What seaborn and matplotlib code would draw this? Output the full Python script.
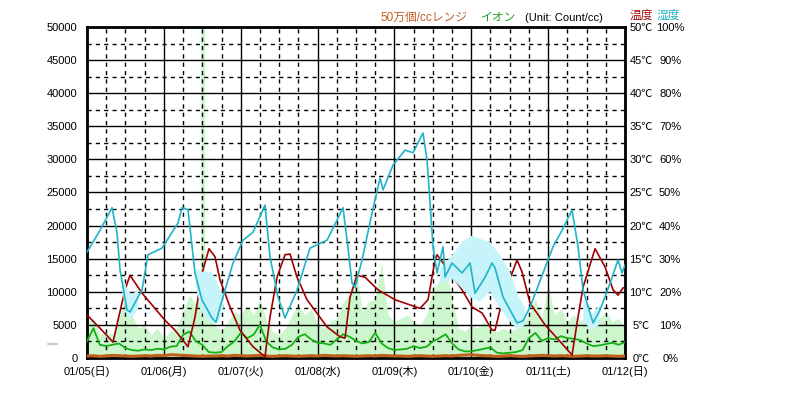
import numpy as np
import pandas as pd
import matplotlib
matplotlib.use("Agg")
import matplotlib.pyplot as plt
import seaborn as sns

# ---------------- data ----------------
day_labels = ["01/05(日)", "01/06(月)", "01/07(火)", "01/08(水)",
              "01/09(木)", "01/10(金)", "01/11(土)", "01/12(日)"]

# ion (count/cc), sampled every 2 hours from 01/05 00:00
ion_hours = list(range(0, 169, 2))
ion_line = [2500, 4500, 2000, 1800, 2000, 2200, 1500, 1200, 1100, 1300,
            1200, 1400, 1300, 1700, 1800, 3500, 4000, 2500, 2000, 900,
            800, 900, 1800, 2500, 3800, 3000, 3500, 5000, 2500, 1600,
            1300, 1400, 2000, 3200, 3600, 2800, 2300, 2200, 2000, 2800,
            3600, 3200, 2600, 2200, 2400, 3800, 2200, 1500, 1200, 1300,
            1400, 1800, 1500, 1700, 2500, 3000, 3600, 2200, 1300, 1000,
            1000, 1200, 1400, 1600, 800, 700, 800, 900, 1200, 3000,
            3800, 2600, 3000, 2800, 3300, 3000, 2900, 2700, 2200, 1800,
            1900, 2100, 2300, 2000, 2400]
ion_max = [5500, 6000, 3500, 4000, 3500, 6000, 9000, 6500, 4500, 5000,
           3500, 4500, 3000, 4000, 4500, 7000, 9500, 8000, 10000, 7500,
           5000, 4000, 5500, 7000, 6500, 8000, 6500, 9000, 5500, 4000,
           3500, 4500, 6500, 8000, 6500, 7500, 5000, 4500, 5500, 6000,
           8500, 9500, 13500, 7000, 8500, 9000, 14500, 6500, 5500, 6000,
           6500, 5500, 5000, 6500, 10500, 11500, 13500, 9000, 4500, 4000,
           5000, 4500, 5500, 4500, 4000, 4500, 4000, 4500, 5000, 6500,
           9000, 6000, 11000, 6500, 7500, 5500, 6500, 5500, 6500, 5000,
           6000, 7000, 5500, 6000, 4500]
spike_hours = [36.2]
spike_vals = [50000]

# "50万個/cc range" series (near zero)
range_vals = [300, 350, 250, 300, 400, 350, 300, 250, 300, 350,
              300, 400, 350, 500, 450, 400, 350, 300, 250, 300,
              300, 350, 300, 400, 350, 300, 350, 400, 300, 250,
              300, 350, 300, 250, 300, 350, 300, 400, 350, 300,
              350, 300, 250, 300, 350, 300, 400, 350, 300, 300,
              250, 300, 350, 300, 250, 300, 350, 300, 400, 450,
              500, 400, 350, 300, 250, 300, 350, 300, 250, 300,
              350, 400, 350, 300, 350, 300, 250, 300, 350, 300,
              300, 350, 300, 250, 300]

# humidity (%)
hum_hours = [0, 4.06, 7.81, 9.37, 10.31, 12.49, 13.43, 17.18, 19.05, 23.42,
             28.42, 29.67, 31.54, 33.73, 35.91, 39.04, 40.29, 41.54, 45.6, 48.72,
             51.84, 55.59, 57.15, 59.65, 61.84, 65.58, 69.64, 74.95, 78.08, 79.95,
             81.51, 82.76, 83.7, 85.88, 89.01, 91.51, 92.44, 95.57, 99.31, 101.81,
             104.93, 106.18, 107.12, 108.06, 109.31, 111.18, 111.81, 113.99, 117.11, 119.61,
             121.17, 124.3, 126.48, 127.42, 129.92, 134.29, 136.16, 138.35, 142.41, 145.53,
             148.34, 151.47, 153.34, 154.9, 158.03, 160.21, 163.34, 165.83, 167.08, 168]
hum_vals = [32, 38.6, 45.4, 37.8, 26.6, 14.5, 13.9, 20.6, 31.2, 33.2,
            40.8, 45.4, 44.8, 25.6, 17.5, 12.1, 10.8, 15.4, 28.7, 35.6,
            38, 46.2, 30.5, 18.4, 12.1, 20.5, 33.2, 35.6, 41.7, 45.4,
            33.2, 22.6, 21.4, 29.6, 43.8, 54.4, 50.8, 58.3, 62.8, 62,
            68, 59.8, 46.8, 33.6, 25.7, 33.6, 24.5, 28.7, 25.7, 28.7,
            19.6, 24.4, 28.7, 27.2, 18.4, 10.6, 11.2, 15.4, 25.7, 33.6,
            38.6, 44.7, 33.6, 20.5, 10.6, 14.5, 22.6, 29.6, 25.7, 28.1]
hum_band_hours = [11, 12.5, 14, 16, np.nan,
                  34.0, 36.2, 39.0, 41.0, 42.5, np.nan,
                  110.2, 114, 117.1, 120.2, 122.7, 125.9, 129, 132.1, 134.6, 136.8, np.nan,
                  155, 157.5, 160]
hum_band_lo = [20, 12.5, 12, 15, np.nan,
               21, 13, 10.5, 11, 15, np.nan,
               22, 24, 21, 18, 17, 20, 15, 11, 8.5, 10, np.nan,
               11, 8.5, 10]
hum_band_hi = [24, 21, 19, 21, np.nan,
               27, 26, 26, 22, 19, np.nan,
               27, 31, 35, 37, 36, 35, 31, 26, 19, 15, np.nan,
               18, 13, 16]

# temperature (deg C)
temp_hours = [0, 4.06, 8.12, 9.68, 11.87, 13.43, 17.18, 24.36, 27.48, 31.54,
              33.73, 35.91, 38.1, 39.97, 41.54, 44.66, 47.78, 51.84, 55.59, 57.15,
              59.34, 61.84, 63.4, 65.58, 68.71, 74.95, 79.01, 80.58, 82.14, 84.32,
              86.82, 90.88, 96.19, 104.0, 106.49, 108.68, 109.31, 112.74, 117.11, 120.24,
              123.36, 126.48, 127.42, 129.92, 134.29, 135.85, 138.35, 143.03, 146.78, 151.47,
              153.03, 154.9, 158.65, 161.77, 164.27, 165.83, 167.39, 168]
temp_vals = [6.5, 4.5, 2.4, 5.7, 10.3, 12.5, 9.8, 5.7, 4.2, 1.7,
             6.2, 12.8, 16.5, 15.3, 11.8, 7.7, 4.2, 1.7, 0.2, 6.2,
             12.2, 15.6, 15.7, 12.2, 8.8, 4.7, 3.2, 3.0, 9.2, 12.5,
             12.2, 10.3, 8.8, 7.5, 8.8, 14.8, 15.6, 13.3, 10.3, 7.7,
             6.8, 4.2, 4.2, 9.2, 14.8, 13.0, 8.3, 5.0, 3.0, 0.45,
             5.3, 10.7, 16.5, 13.75, 10.3, 9.5, 10.6, 10.6]

ion_ticks = list(range(0, 50001, 5000))
temp_ticks = list(range(0, 51, 5))
hum_ticks = list(range(0, 101, 10))

# ---------------- styling ----------------
sns.set_theme(style="white")
plt.rcParams["font.family"] = ["Liberation Sans", "Noto Sans CJK JP", "DejaVu Sans"]

C_ION = "#14b014"
C_ION_BAND = "#ccf7cc"
C_RANGE = "#c0601a"
C_TEMP = "#a00000"
C_HUM = "#20b4c8"
C_HUM_BAND = "#c6f4fa"

fig = plt.figure(figsize=(7.86, 3.99), dpi=100)
ax = fig.add_axes([87 / 786, 1 - 358 / 399, 538 / 786, 331 / 399])
ax.set_facecolor("white")

# ion band + line
ax.fill_between(ion_hours, 0, ion_max, color=C_ION_BAND, lw=0, zorder=0.2)
ax.vlines(spike_hours, 0, spike_vals, color=C_ION_BAND, lw=3, zorder=0.2)
ion_df = pd.DataFrame({"h": ion_hours, "ion": ion_line, "rng": range_vals})
sns.lineplot(data=ion_df, x="h", y="ion", ax=ax, color=C_ION, lw=1.3, estimator=None, zorder=3)
sns.lineplot(data=ion_df, x="h", y="rng", ax=ax, color=C_RANGE, lw=2.2, estimator=None, zorder=3)

ax.set_xlim(0, 168)
ax.set_ylim(0, 50000)
ax.set_xticks(range(0, 169, 24))
ax.set_xticklabels(day_labels)
ax.set_xticks(range(0, 169, 6), minor=True)
ax.set_yticks(ion_ticks)
ax.set_yticklabels([str(v) for v in ion_ticks])
ax.set_yticks(range(2500, 50000, 5000), minor=True)
ax.set_axisbelow(True)
ax.grid(which="major", color="black", lw=1, ls="-")
ax.grid(which="minor", color="black", lw=1, ls=(0, (3, 3)))
ax.tick_params(which="both", length=0)
ax.tick_params(axis="y", pad=7, labelsize=8, colors="black")
ax.tick_params(axis="x", pad=6, labelsize=8, colors="black")
ax.set_xlabel("")
ax.set_ylabel("")
for s in ax.spines.values():
    s.set_visible(True)
    s.set_color("black")
    s.set_linewidth(2)

# temperature
ax_t = ax.twinx()
temp_df = pd.DataFrame({"h": temp_hours, "t": temp_vals})
sns.lineplot(data=temp_df, x="h", y="t", ax=ax_t, color=C_TEMP, lw=1.2, estimator=None)
ax_t.set_ylim(0, 50)
ax_t.set_xlim(0, 168)
ax_t.set_yticks(temp_ticks)
ax_t.set_yticklabels([f"{v}℃" for v in temp_ticks])
for lbl in ax_t.get_yticklabels():
    lbl.set_horizontalalignment("center")
ax_t.tick_params(axis="y", length=0, pad=11.5, labelsize=8, colors="black")
ax_t.set_ylabel("")
ax_t.grid(False)
for s in ax_t.spines.values():
    s.set_visible(False)

# humidity
ax_h = ax.twinx()
ax_h.fill_between(hum_band_hours, hum_band_lo, hum_band_hi, color=C_HUM_BAND, lw=0)
hum_df = pd.DataFrame({"h": hum_hours, "hum": hum_vals})
sns.lineplot(data=hum_df, x="h", y="hum", ax=ax_h, color=C_HUM, lw=1.2, estimator=None)
ax_h.set_ylim(0, 100)
ax_h.set_xlim(0, 168)
ax_h.set_yticks(hum_ticks)
ax_h.set_yticklabels([f"{v}%" for v in hum_ticks])
for lbl in ax_h.get_yticklabels():
    lbl.set_horizontalalignment("center")
ax_h.tick_params(axis="y", length=0, pad=32.5, labelsize=8, colors="black")
ax_h.set_ylabel("")
ax_h.grid(False)
for s in ax_h.spines.values():
    s.set_visible(False)

# header texts
ty = 1 - 18 / 399
fig.text(380 / 786, ty, "50万個/ccレンジ", color="#c06020", fontsize=8.5, va="center", ha="left")
fig.text(481 / 786, ty, "イオン", color="#20a020", fontsize=8.5, va="center", ha="left")
fig.text(525 / 786, ty, "(Unit: Count/cc)", color="black", fontsize=8, va="center", ha="left")
fig.text(630 / 786, 1 - 16 / 399, "温度", color="#a01010", fontsize=8.5, va="center", ha="left")
fig.text(657 / 786, 1 - 16 / 399, "湿度", color="#20b0c0", fontsize=8.5, va="center", ha="left")

fig.add_artist(plt.Line2D([48 / 786, 57 / 786], [1 - 344 / 399, 1 - 344 / 399],
                          color="#c8c8c8", lw=1.5))

fig.savefig("out.png", dpi=100, facecolor="white")
